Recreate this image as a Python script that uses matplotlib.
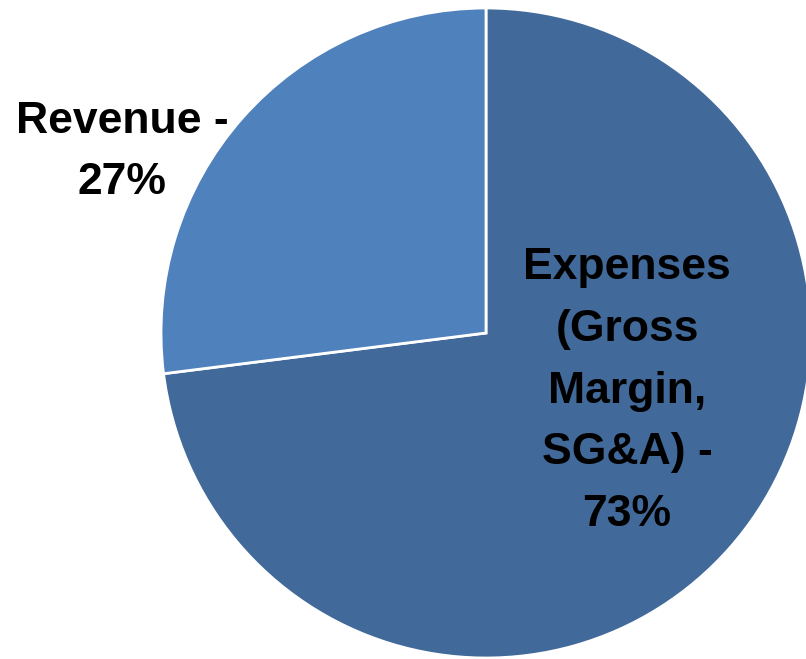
import matplotlib.pyplot as plt

labels = ['Expenses\n(Gross\nMargin,\nSG&A) -\n73%', 'Revenue -\n27%']
shares = [73, 27]
colors = ['#41699A', '#4F81BD']

W, H = 806, 659

fig = plt.figure(figsize=(W / 100, H / 100), dpi=100)
ax = fig.add_axes([0, 0, 1, 1])

# pie is bigger than the canvas on the right, so draw it in pixel coords
cx, cy, r = 486, H - 333, 325
ax.pie(shares, colors=colors, startangle=90, counterclock=False,
       center=(cx, cy), radius=r, frame=True,
       wedgeprops=dict(edgecolor='white', linewidth=2))
ax.set_xlim(0, W)
ax.set_ylim(0, H)
ax.set_aspect('equal')
ax.axis('off')

font = dict(family='Liberation Sans', weight='bold', size=32,
            ha='center', va='center', linespacing=1.65)
ax.text(627, H - 391, labels[0], **font)
ax.text(122, H - 152, labels[1], **font)

fig.savefig('out.png', dpi=100)
